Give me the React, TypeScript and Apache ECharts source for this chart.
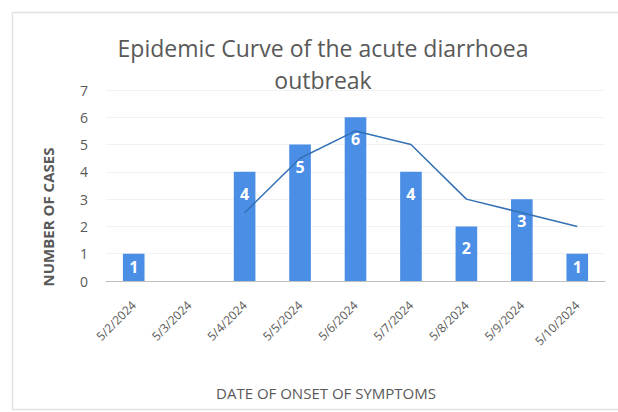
import React, { useEffect, useRef } from "react";
import * as echarts from "echarts";

const categories = ["5/2/2024", "5/3/2024", "5/4/2024", "5/5/2024", "5/6/2024", "5/7/2024", "5/8/2024", "5/9/2024", "5/10/2024"];
const cases: (number | null)[] = [1, null, 4, 5, 6, 4, 2, 3, 1];
const movingAvg: (number | null)[] = [null, null, 2.5, 4.5, 5.5, 5, 3, 2.5, 2];
const titleText = "Epidemic Curve of the acute diarrhoea\noutbreak";
const xTitle = "DATE OF ONSET OF SYMPTOMS";
const yTitle = "NUMBER OF CASES";

export default function App() {
  const ref = useRef<HTMLDivElement>(null);
  useEffect(() => {
    const chart = echarts.init(ref.current!, null, { renderer: "svg" });
    const barData = cases.map((v) =>
      v !== null && v <= 1
        ? { value: v, label: { position: "inside" } }
        : v
    );
    chart.setOption({
      animation: false,
      backgroundColor: "#ffffff",
      textStyle: { fontFamily: "Open Sans" },
      title: {
        text: titleText,
        left: 318,
        top: 27,
        textAlign: "center",
        textStyle: { fontSize: 23, fontWeight: "normal", color: "#595959", lineHeight: 32, fontFamily: "Open Sans" },
      },
      graphic: [
        { type: "rect", shape: { x: 12.5, y: 12.5, width: 640, height: 397 }, style: { fill: "none", stroke: "#e3e3e3", lineWidth: 1.5 }, silent: true },
        { type: "text", x: 326, y: 393, style: { text: xTitle, fill: "#595959", fontSize: 15, fontWeight: "normal", align: "center", verticalAlign: "middle", fontFamily: "Open Sans" } },
        { type: "text", x: 48, y: 217, rotation: Math.PI / 2, style: { text: yTitle, fill: "#595959", fontSize: 15, fontWeight: "bold", align: "center", verticalAlign: "middle", fontFamily: "Open Sans" } },
      ],
      grid: { left: 106, right: 13, top: 90, bottom: 131, containLabel: false },
      xAxis: {
        type: "category",
        data: categories,
        axisLine: { lineStyle: { color: "#bfbfbf" } },
        axisTick: { show: false },
        axisLabel: { rotate: 45, color: "#595959", fontSize: 12, margin: 22, interval: 0 },
      },
      yAxis: {
        type: "value",
        min: 0,
        max: 7,
        interval: 1,
        axisLine: { show: false },
        axisTick: { show: false },
        axisLabel: { color: "#595959", fontSize: 14, margin: 18 },
        splitLine: { lineStyle: { color: "#f2f2f2" } },
      },
      series: [
        {
          type: "bar",
          data: barData,
          barWidth: "39%",
          itemStyle: { color: "#4a8ee6" },
          label: { show: true, position: "insideTop", color: "#ffffff", fontSize: 16, fontWeight: "bold", distance: 14 },
        },
        {
          type: "line",
          data: movingAvg,
          symbol: "none",
          lineStyle: { color: "#3470b5", width: 1.5 },
        },
      ],
    });
    return () => chart.dispose();
  }, []);
  return <div ref={ref} style={{ position: "absolute", left: 0, top: 0, width: 618, height: 412 }} />;
}
